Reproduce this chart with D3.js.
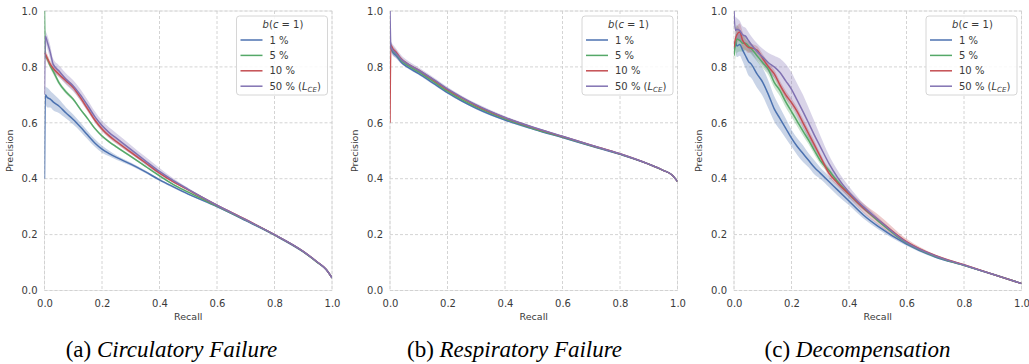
<!DOCTYPE html>
<html>
<head>
<meta charset="utf-8">
<script src="https://cdn.jsdelivr.net/npm/d3@7"></script>
<style>
  html, body { margin: 0; padding: 0; background: #fff; }
  svg { display: block; }
</style>
</head>
<body>
<svg id="chart" width="1029" height="364"></svg>
<script>
// ---------------- DATA ----------------
const seriesNames = ["1 %", "5 %", "10 %", "50 %"];
const seriesColors = ["#4C72B0", "#55A868", "#C44E52", "#8172B2"];
const tickValues = [0, 0.2, 0.4, 0.6, 0.8, 1.0];
const captionLetters = ["(a)", "(b)", "(c)"];
const captionTitles = ["Circulatory Failure", "Respiratory Failure", "Decompensation"];

// (a) Circulatory Failure
const circRecall = [0, 0.003, 0.01, 0.02, 0.03, 0.05, 0.075, 0.1, 0.125, 0.15, 0.175, 0.2, 0.225, 0.25, 0.3, 0.35, 0.4, 0.45, 0.5, 0.6, 0.7, 0.8, 0.9, 0.95, 0.98, 1.0];
const circP1  = [0.40, 0.70, 0.69, 0.685, 0.675, 0.66, 0.635, 0.612, 0.585, 0.556, 0.528, 0.506, 0.49, 0.476, 0.452, 0.425, 0.396, 0.37, 0.345, 0.30, 0.25, 0.198, 0.138, 0.10, 0.074, 0.045];
const circP5  = [1.00, 0.84, 0.828, 0.804, 0.785, 0.744, 0.71, 0.684, 0.648, 0.615, 0.58, 0.553, 0.532, 0.514, 0.48, 0.445, 0.41, 0.378, 0.352, 0.302, 0.252, 0.199, 0.139, 0.10, 0.075, 0.045];
const circP10 = [0.85, 0.846, 0.83, 0.81, 0.795, 0.774, 0.75, 0.726, 0.69, 0.65, 0.61, 0.578, 0.553, 0.533, 0.495, 0.458, 0.42, 0.388, 0.36, 0.305, 0.254, 0.2, 0.14, 0.101, 0.075, 0.045];
const circP50 = [0.70, 0.91, 0.888, 0.852, 0.81, 0.786, 0.756, 0.732, 0.70, 0.662, 0.622, 0.59, 0.565, 0.545, 0.505, 0.465, 0.426, 0.392, 0.362, 0.305, 0.253, 0.2, 0.14, 0.101, 0.075, 0.045];
const circB1  = [0, 0.03, 0.035, 0.03, 0.03, 0.025, 0.02, 0.018, 0.016, 0.015, 0.014, 0.013, 0.01, 0.008, 0.006, 0.005, 0.004, 0.004, 0.003, 0.003, 0.002, 0.002, 0.002, 0.002, 0.002, 0.002];
const circB5  = [0, 0.01, 0.01, 0.01, 0.01, 0.008, 0.007, 0.006, 0.005, 0.005, 0.005, 0.005, 0.004, 0.004, 0.004, 0.003, 0.003, 0.003, 0.003, 0.002, 0.002, 0.002, 0.002, 0.002, 0.002, 0.002];
const circB10 = [0, 0.015, 0.015, 0.012, 0.012, 0.01, 0.01, 0.01, 0.01, 0.01, 0.009, 0.009, 0.008, 0.008, 0.007, 0.006, 0.005, 0.004, 0.003, 0.003, 0.002, 0.002, 0.002, 0.002, 0.002, 0.002];
const circB50 = [0, 0.02, 0.025, 0.025, 0.02, 0.02, 0.02, 0.02, 0.02, 0.02, 0.019, 0.018, 0.018, 0.018, 0.016, 0.014, 0.012, 0.008, 0.005, 0.003, 0.002, 0.002, 0.002, 0.002, 0.002, 0.002];

// (b) Respiratory Failure
const respRecall = [0, 0.003, 0.01, 0.02, 0.04, 0.06, 0.1, 0.15, 0.2, 0.25, 0.3, 0.4, 0.5, 0.6, 0.7, 0.8, 0.9, 0.95, 0.98, 1.0];
const respP1  = [0.90, 0.87, 0.852, 0.842, 0.816, 0.80, 0.776, 0.742, 0.708, 0.678, 0.652, 0.61, 0.577, 0.547, 0.517, 0.487, 0.452, 0.43, 0.414, 0.39];
const respP5  = [0.88, 0.875, 0.858, 0.848, 0.822, 0.806, 0.782, 0.748, 0.713, 0.683, 0.657, 0.614, 0.579, 0.549, 0.518, 0.488, 0.452, 0.43, 0.414, 0.39];
const respP10 = [0.60, 0.878, 0.864, 0.854, 0.828, 0.812, 0.788, 0.754, 0.719, 0.689, 0.662, 0.618, 0.582, 0.551, 0.52, 0.489, 0.452, 0.43, 0.414, 0.39];
const respP50 = [1.00, 0.872, 0.86, 0.85, 0.826, 0.812, 0.788, 0.756, 0.721, 0.691, 0.664, 0.619, 0.583, 0.552, 0.52, 0.489, 0.452, 0.43, 0.414, 0.39];
const respB1  = [0, 0.01, 0.01, 0.008, 0.006, 0.005, 0.005, 0.005, 0.005, 0.004, 0.004, 0.003, 0.003, 0.002, 0.002, 0.002, 0.002, 0.002, 0.002, 0.002];
const respB5  = [0, 0.01, 0.01, 0.008, 0.006, 0.005, 0.005, 0.004, 0.004, 0.004, 0.003, 0.003, 0.003, 0.002, 0.002, 0.002, 0.002, 0.002, 0.002, 0.002];
const respB10 = [0, 0.01, 0.01, 0.008, 0.006, 0.005, 0.005, 0.004, 0.004, 0.004, 0.003, 0.003, 0.003, 0.002, 0.002, 0.002, 0.002, 0.002, 0.002, 0.002];
const respB50 = [0, 0.02, 0.02, 0.018, 0.015, 0.012, 0.01, 0.008, 0.007, 0.006, 0.006, 0.005, 0.004, 0.003, 0.002, 0.002, 0.002, 0.002, 0.002, 0.002];

// (c) Decompensation
const decRecall = [0, 0.005, 0.01, 0.02, 0.03, 0.04, 0.05, 0.06, 0.08, 0.1, 0.12, 0.14, 0.16, 0.18, 0.2, 0.22, 0.24, 0.26, 0.28, 0.3, 0.33, 0.36, 0.4, 0.45, 0.5, 0.6, 0.7, 0.8, 0.9, 1.0];
const decP1  = [0.86, 0.89, 0.875, 0.88, 0.86, 0.84, 0.82, 0.81, 0.775, 0.745, 0.70, 0.65, 0.615, 0.58, 0.545, 0.515, 0.49, 0.465, 0.44, 0.42, 0.39, 0.36, 0.32, 0.27, 0.23, 0.166, 0.12, 0.09, 0.058, 0.025];
const decP5  = [0.84, 0.88, 0.90, 0.895, 0.885, 0.885, 0.875, 0.865, 0.84, 0.815, 0.79, 0.745, 0.715, 0.675, 0.64, 0.605, 0.57, 0.537, 0.50, 0.465, 0.43, 0.39, 0.345, 0.295, 0.25, 0.17, 0.122, 0.09, 0.058, 0.025];
const decP10 = [0.87, 0.90, 0.915, 0.925, 0.895, 0.88, 0.87, 0.868, 0.86, 0.83, 0.80, 0.775, 0.735, 0.70, 0.672, 0.64, 0.60, 0.56, 0.52, 0.48, 0.42, 0.385, 0.345, 0.295, 0.255, 0.175, 0.125, 0.092, 0.058, 0.025];
const decP50 = [1.00, 0.93, 0.935, 0.93, 0.915, 0.91, 0.895, 0.88, 0.855, 0.835, 0.815, 0.80, 0.78, 0.75, 0.72, 0.68, 0.64, 0.598, 0.555, 0.515, 0.455, 0.405, 0.352, 0.30, 0.255, 0.172, 0.124, 0.091, 0.058, 0.025];
const decB1  = [0, 0.03, 0.04, 0.04, 0.04, 0.045, 0.05, 0.05, 0.05, 0.05, 0.05, 0.045, 0.04, 0.035, 0.03, 0.03, 0.03, 0.025, 0.025, 0.02, 0.02, 0.02, 0.015, 0.012, 0.01, 0.006, 0.004, 0.003, 0.002, 0.002];
const decB5  = [0, 0.06, 0.05, 0.04, 0.03, 0.025, 0.02, 0.02, 0.02, 0.02, 0.02, 0.02, 0.02, 0.02, 0.018, 0.018, 0.016, 0.015, 0.014, 0.012, 0.01, 0.01, 0.008, 0.006, 0.005, 0.004, 0.003, 0.002, 0.002, 0.002];
const decB10 = [0, 0.04, 0.03, 0.03, 0.03, 0.02, 0.02, 0.015, 0.015, 0.015, 0.015, 0.015, 0.015, 0.015, 0.015, 0.015, 0.015, 0.015, 0.015, 0.012, 0.012, 0.012, 0.012, 0.016, 0.018, 0.01, 0.004, 0.003, 0.002, 0.002];
const decB50 = [0, 0.05, 0.04, 0.035, 0.03, 0.03, 0.03, 0.03, 0.03, 0.03, 0.035, 0.04, 0.05, 0.06, 0.06, 0.06, 0.06, 0.055, 0.05, 0.04, 0.03, 0.025, 0.02, 0.012, 0.008, 0.005, 0.003, 0.002, 0.002, 0.002];

const panels = [
  { recall: circRecall, prec: [circP1, circP5, circP10, circP50], band: [circB1, circB5, circB10, circB50] },
  { recall: respRecall, prec: [respP1, respP5, respP10, respP50], band: [respB1, respB5, respB10, respB50] },
  { recall: decRecall,  prec: [decP1, decP5, decP10, decP50],     band: [decB1, decB5, decB10, decB50] }
];

// ---------------- LAYOUT ----------------
const SANS = "'DejaVu Sans', sans-serif";
const SERIF = "'Liberation Serif', 'Times New Roman', serif";
const svg = d3.select("#chart");
svg.append("rect").attr("width", 1029).attr("height", 364).attr("fill", "#fff");

const plotLefts = [44.5, 390, 734];
const plotW = 287.5;
const plotTop = 11, plotBottom = 290.5;
const captionCenters = [171.5, 514.5, 857.5];

panels.forEach((panel, pi) => {
  const x0 = plotLefts[pi];
  const x = d3.scaleLinear().domain([0, 1]).range([x0, x0 + plotW]);
  const y = d3.scaleLinear().domain([0, 1]).range([plotBottom, plotTop]);
  const g = svg.append("g");

  const clipId = "clip" + pi;
  svg.append("defs").append("clipPath").attr("id", clipId)
    .append("rect").attr("x", x0).attr("y", plotTop).attr("width", plotW).attr("height", plotBottom - plotTop);

  g.append("rect").attr("x", x0).attr("y", plotTop).attr("width", plotW).attr("height", plotBottom - plotTop)
    .attr("fill", "none").attr("stroke", "#ececec").attr("stroke-width", 1);

  const grid = g.append("g");
  tickValues.forEach(t => {
    grid.append("line").attr("x1", x(t)).attr("x2", x(t)).attr("y1", plotTop).attr("y2", plotBottom)
      .attr("stroke", "#cfcfcf").attr("stroke-width", 0.9).attr("stroke-dasharray", "3,2");
    grid.append("line").attr("x1", x0).attr("x2", x0 + plotW).attr("y1", y(t)).attr("y2", y(t))
      .attr("stroke", "#cfcfcf").attr("stroke-width", 0.9).attr("stroke-dasharray", "3,2");
  });

  const xAxis = d3.axisBottom(x).tickValues(tickValues).tickFormat(d3.format(".1f")).tickSize(0).tickPadding(9);
  const yAxis = d3.axisLeft(y).tickValues(tickValues).tickFormat(d3.format(".1f")).tickSize(0).tickPadding(7);
  const xa = g.append("g").attr("transform", `translate(0,${plotBottom})`).call(xAxis);
  const ya = g.append("g").attr("transform", `translate(${x0},0)`).call(yAxis);
  [xa, ya].forEach(a => {
    a.attr("font-family", null).attr("font-size", null);
    a.select(".domain").remove();
    a.selectAll("text").style("font-family", SANS).style("font-size", "10px").attr("fill", "#3a3a3a");
  });

  g.append("text").attr("x", x0 + plotW / 2).attr("y", 320).attr("text-anchor", "middle")
    .style("font-family", SANS).style("font-size", "9.5px").attr("fill", "#3a3a3a").text("Recall");
  g.append("text").attr("transform", `translate(${x0 - 32},${(plotTop + plotBottom) / 2}) rotate(-90)`)
    .attr("text-anchor", "middle").style("font-family", SANS).style("font-size", "9.5px").attr("fill", "#3a3a3a").text("Precision");

  const data = g.append("g").attr("clip-path", `url(#${clipId})`);
  panel.prec.forEach((pr, si) => {
    const pts = panel.recall.map((r, i) => ({ r, p: pr[i], b: panel.band[si][i] }));
    const area = d3.area().curve(d3.curveMonotoneX).x(d => x(d.r)).y0(d => y(d.p - d.b)).y1(d => y(d.p + d.b));
    data.append("path").attr("d", area(pts.slice(1))).attr("fill", seriesColors[si]).attr("fill-opacity", 0.3);
  });
  panel.prec.forEach((pr, si) => {
    const pts = panel.recall.map((r, i) => ({ r, p: pr[i] }));
    const line = d3.line().curve(d3.curveMonotoneX).x(d => x(d.r)).y(d => y(d.p));
    data.append("path").attr("d", line(pts)).attr("fill", "none").attr("stroke", seriesColors[si])
      .attr("stroke-width", 1.5).attr("stroke-linejoin", "round");
  });

  const lgW = 91, lgH = 79;
  const lgX = x0 + plotW - 4.5 - lgW, lgY = 16;
  const lg = g.append("g");
  lg.append("rect").attr("x", lgX).attr("y", lgY).attr("width", lgW).attr("height", lgH).attr("rx", 3)
    .attr("fill", "#fff").attr("fill-opacity", 0.85).attr("stroke", "#d6d6d6").attr("stroke-width", 1);
  const title = lg.append("text").attr("x", lgX + lgW / 2 + 1).attr("y", lgY + 11.5).attr("text-anchor", "middle")
    .style("font-family", SANS).style("font-size", "10px").attr("fill", "#3a3a3a");
  title.append("tspan").attr("font-style", "italic").text("b");
  title.append("tspan").text("(");
  title.append("tspan").attr("font-style", "italic").text("c");
  title.append("tspan").text(" = 1)");
  seriesNames.forEach((name, si) => {
    const ey = lgY + 24 + si * 15.4;
    lg.append("line").attr("x1", lgX + 4).attr("x2", lgX + 26).attr("y1", ey).attr("y2", ey)
      .attr("stroke", seriesColors[si]).attr("stroke-width", 1.5);
    const t = lg.append("text").attr("x", lgX + 33).attr("y", ey + 3.5)
      .style("font-family", SANS).style("font-size", "10px").attr("fill", "#3a3a3a");
    t.append("tspan").text(name);
    if (si === 3) {
      t.append("tspan").text(" (");
      t.append("tspan").attr("font-style", "italic").text("L");
      t.append("tspan").attr("font-style", "italic").attr("font-size", 7).attr("dy", 2).text("CE");
      t.append("tspan").attr("dy", -2).text(")");
    }
  });

  const cap = svg.append("text").attr("x", captionCenters[pi]).attr("y", 357).attr("text-anchor", "middle")
    .style("font-family", SERIF).style("font-size", "23px").attr("fill", "#000");
  cap.append("tspan").text(captionLetters[pi] + " ");
  cap.append("tspan").attr("font-style", "italic").text(captionTitles[pi]);
});
</script>
</body>
</html>
